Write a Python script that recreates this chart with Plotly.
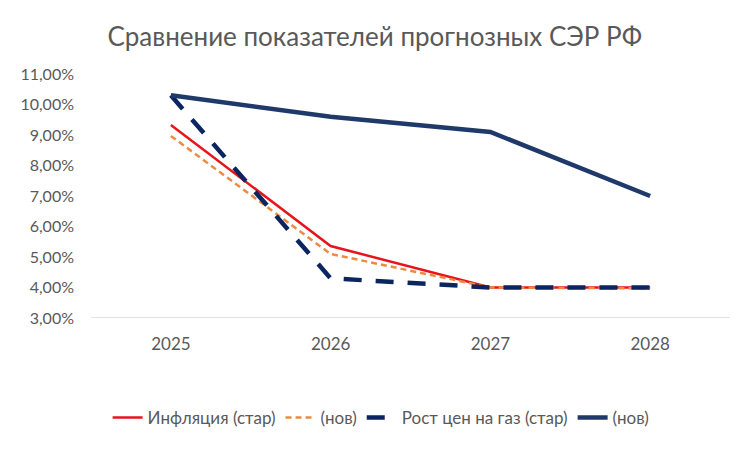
import plotly.graph_objects as go

years = ["2025", "2026", "2027", "2028"]

infl_old = [0.0933, 0.0536, 0.0400, 0.0400]
infl_new = [0.0897, 0.0510, 0.0400, 0.0397]
gas_old = [0.1030, 0.0430, 0.0400, 0.0400]
gas_new = [0.1030, 0.0960, 0.0910, 0.0700]

names = ["Инфляция (стар)", "(нов)", "Рост цен на газ (стар)", "(нов)"]

fnt = "Lato"
grey = "#595959"

fig = go.Figure()
fig.add_trace(go.Scatter(x=years, y=infl_old, name=names[0], mode="lines",
                         line=dict(color="#E8141B", width=2.5)))
fig.add_trace(go.Scatter(x=years, y=infl_new, name=names[1], mode="lines",
                         line=dict(color="#ED8A3F", width=2.5, dash="6px,4px")))
fig.add_trace(go.Scatter(x=years, y=gas_old, name=names[2], mode="lines",
                         line=dict(color="#0B2560", width=4.5, dash="18px,14px")))
fig.add_trace(go.Scatter(x=years, y=gas_new, name=names[3], mode="lines",
                         line=dict(color="#1F3A6A", width=4.5)))

fig.update_layout(
    width=750, height=450,
    paper_bgcolor="white", plot_bgcolor="white",
    separators=", ",
    margin=dict(l=81, r=28, t=66, b=140),
    title=dict(text="Сравнение показателей прогнозных СЭР РФ", x=0.489, xanchor="center",
               y=0.935, yanchor="middle",
               font=dict(family=fnt, size=26, color=grey)),
    font=dict(family=fnt, color=grey),
    showlegend=True,
    legend=dict(orientation="h", x=0.454, xanchor="center", y=-0.41, yanchor="middle",
                font=dict(size=17, color=grey), tracegroupgap=0),
    xaxis=dict(type="category", range=[-0.5, 3.5], showgrid=False, zeroline=False,
               showline=False, ticks="", tickfont=dict(size=17, color=grey),
               ticklabelstandoff=14),
    yaxis=dict(range=[0.03, 0.11], dtick=0.01, tickformat=".2%", showgrid=False,
               zeroline=False, showline=False, ticks="",
               tickfont=dict(size=16, color=grey), ticklabelstandoff=16),
)

fig.add_shape(type="line", xref="paper", yref="y", x0=0, x1=1, y0=0.03, y1=0.03,
              line=dict(color="#D9D9D9", width=1.5), layer="below")

fig.write_html("out.html")
